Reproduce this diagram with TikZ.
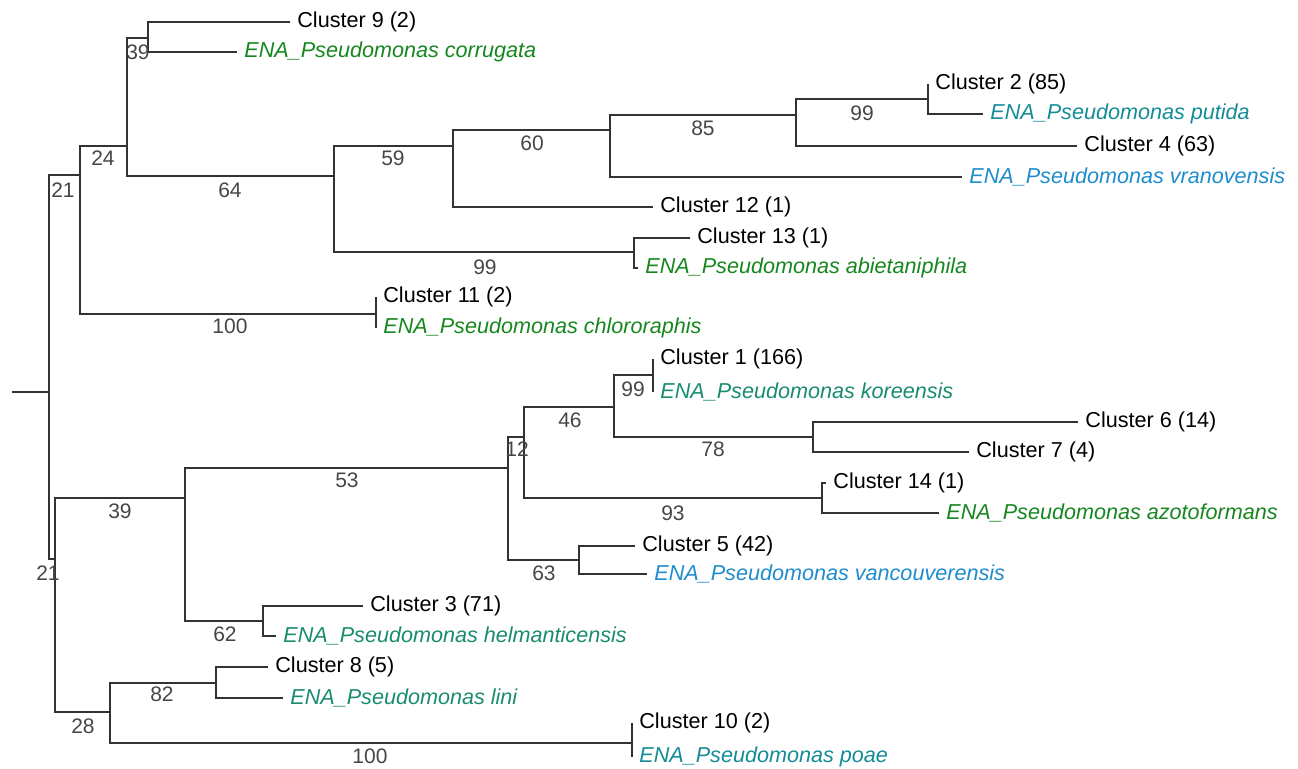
\documentclass[tikz,border=0pt]{standalone}
\usepackage{fontspec}
\setmainfont{Liberation Sans}
\usepackage{xcolor}
\usetikzlibrary{positioning}
\definecolor{enagreen}{RGB}{22,135,30}
\definecolor{enateal}{RGB}{25,140,110}
\definecolor{enacyan}{RGB}{20,140,150}
\definecolor{enablue}{RGB}{30,140,205}
\definecolor{bootgray}{RGB}{70,70,70}

\begin{document}
\begin{tikzpicture}[x=0.5pt, y=-0.5pt,
    branch/.style={draw=black!80, line width=0.75pt},
    leaf/.style={anchor=west, inner xsep=3.5pt, inner ysep=0pt, font=\fontsize{10.8}{12}\selectfont},
    ena/.style={leaf, font=\fontsize{10.8}{12}\selectfont\itshape},
    boot/.style={inner sep=0pt, text=bootgray, font=\fontsize{10.5}{12}\selectfont}]
                        \useasboundingbox (0,0) rectangle (1298,769);
                        % inner nodes of the tree
                        \coordinate (stub) at (12,392);
                        \coordinate (root) at (49,392);
                        \coordinate (up) at (80,175);
                        \coordinate (b24) at (127,146);
                        \coordinate (b39) at (148,38);
                        \coordinate (b64) at (334,176);
                        \coordinate (b59) at (453,146);
                        \coordinate (b60) at (610,130);
                        \coordinate (b85) at (796,115);
                        \coordinate (b99p) at (928,99);
                        \coordinate (b99a) at (634,252);
                        \coordinate (b100c) at (376,314);
                        \coordinate (lo) at (55,559);
                        \coordinate (b39lo) at (185,498);
                        \coordinate (b53) at (508,468);
                        \coordinate (b12) at (524,437);
                        \coordinate (b46) at (614,407);
                        \coordinate (b99k) at (653,375);
                        \coordinate (b78) at (813,437);
                        \coordinate (b93) at (822,498);
                        \coordinate (b63) at (579,560);
                        \coordinate (b62) at (263,621);
                        \coordinate (b28) at (110,712);
                        \coordinate (b82) at (216,683);
                        \coordinate (b100p) at (632,743);
                        % leaves
                        \node[leaf] (c9) at (290,22) {Cluster 9 (2)};
                        \node[ena, text=enagreen] (corr) at (237,52) {ENA\_Pseudomonas corrugata};
                        \node[leaf] (c2) at (928,84) {Cluster 2 (85)};
                        \node[ena, text=enacyan] (put) at (983,114) {ENA\_Pseudomonas putida};
                        \node[leaf] (c4) at (1077,146) {Cluster 4 (63)};
                        \node[ena, text=enablue] (vran) at (962,177) {ENA\_Pseudomonas vranovensis};
                        \node[leaf] (c12) at (653,207) {Cluster 12 (1)};
                        \node[leaf] (c13) at (690,238) {Cluster 13 (1)};
                        \node[ena, text=enagreen] (abie) at (638,268) {ENA\_Pseudomonas abietaniphila};
                        \node[leaf] (c11) at (376,297) {Cluster 11 (2)};
                        \node[ena, text=enagreen] (chlo) at (376,328) {ENA\_Pseudomonas chlororaphis};
                        \node[leaf] (c1) at (653,359) {Cluster 1 (166)};
                        \node[ena, text=enateal] (kor) at (653,392) {ENA\_Pseudomonas koreensis};
                        \node[leaf] (c6) at (1078,422) {Cluster 6 (14)};
                        \node[leaf] (c7) at (969,452) {Cluster 7 (4)};
                        \node[leaf] (c14) at (826,483) {Cluster 14 (1)};
                        \node[ena, text=enagreen] (azo) at (939,513) {ENA\_Pseudomonas azotoformans};
                        \node[leaf] (c5) at (635,546) {Cluster 5 (42)};
                        \node[ena, text=enablue] (vanc) at (647,574) {ENA\_Pseudomonas vancouverensis};
                        \node[leaf] (c3) at (363,606) {Cluster 3 (71)};
                        \node[ena, text=enateal] (helm) at (276,636) {ENA\_Pseudomonas helmanticensis};
                        \node[leaf] (c8) at (268,667) {Cluster 8 (5)};
                        \node[ena, text=enateal] (lini) at (283,698) {ENA\_Pseudomonas lini};
                        \node[leaf] (c10) at (632,723) {Cluster 10 (2)};
                        \node[ena, text=enacyan] (poae) at (632,757) {ENA\_Pseudomonas poae};
                        % branches
                        \draw[branch] (stub) -- (root);
                        \draw[branch] (root) |- (up) (root) |- (lo);
                        \draw[branch] (up) |- (b24) (up) |- (b100c);
                        \draw[branch] (b24) |- (b39) (b24) |- (b64);
                        \draw[branch] (b39) |- (c9.west) (b39) |- (corr.west);
                        \draw[branch] (b64) |- (b59) (b64) |- (b99a);
                        \draw[branch] (b59) |- (b60) (b59) |- (c12.west);
                        \draw[branch] (b60) |- (b85) (b60) |- (vran.west);
                        \draw[branch] (b85) |- (b99p) (b85) |- (c4.west);
                        \draw[branch] (b99p) |- (c2.west) (b99p) |- (put.west);
                        \draw[branch] (b99a) |- (c13.west) (b99a) |- (abie.west);
                        \draw[branch] (b100c) |- (c11.west) (b100c) |- (chlo.west);
                        \draw[branch] (lo) |- (b39lo) (lo) |- (b28);
                        \draw[branch] (b39lo) |- (b53) (b39lo) |- (b62);
                        \draw[branch] (b53) |- (b12) (b53) |- (b63);
                        \draw[branch] (b12) |- (b46) (b12) |- (b93);
                        \draw[branch] (b46) |- (b99k) (b46) |- (b78);
                        \draw[branch] (b99k) |- (c1.west) (b99k) |- (kor.west);
                        \draw[branch] (b78) |- (c6.west) (b78) |- (c7.west);
                        \draw[branch] (b93) |- (c14.west) (b93) |- (azo.west);
                        \draw[branch] (b63) |- (c5.west) (b63) |- (vanc.west);
                        \draw[branch] (b62) |- (c3.west) (b62) |- (helm.west);
                        \draw[branch] (b28) |- (b82) (b28) |- (b100p);
                        \draw[branch] (b82) |- (c8.west) (b82) |- (lini.west);
                        \draw[branch] (b100p) |- (c10.west) (b100p) |- (poae.west);
                        % bootstrap values
                        \node[boot] (s39) at (138,52) {39};
                        \node[boot] (s24) at (103,158) {24};
                        \node[boot] (s21) at (63,190) {21};
                        \node[boot] (s64) at (230,190) {64};
                        \node[boot] (s59) at (393,158) {59};
                        \node[boot] (s60) at (532,143) {60};
                        \node[boot] (s85) at (703,128) {85};
                        \node[boot] (s99p) at (862,113) {99};
                        \node[boot] (s99a) at (485,267) {99};
                        \node[boot] (s100c) at (230,326) {100};
                        \node[boot] (s99k) at (633,389) {99};
                        \node[boot] (s46) at (570,420) {46};
                        \node[boot] (s12) at (517,449) {12};
                        \node[boot] (s78) at (713,449) {78};
                        \node[boot] (s93) at (673,513) {93};
                        \node[boot] (s63) at (544,573) {63};
                        \node[boot] (s53) at (347,480) {53};
                        \node[boot] (s39lo) at (120,511) {39};
                        \node[boot] (s21lo) at (48,573) {21};
                        \node[boot] (s62) at (225,634) {62};
                        \node[boot] (s82) at (162,694) {82};
                        \node[boot] (s28) at (83,726) {28};
                        \node[boot] (s100p) at (370,756) {100};
                    \end{tikzpicture}
\end{document}
